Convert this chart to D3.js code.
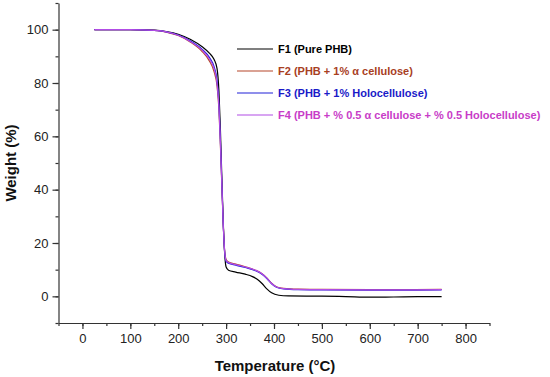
<!DOCTYPE html>
<html>
<head>
<meta charset="utf-8">
<script src="https://cdn.jsdelivr.net/npm/d3@7"></script>
<style>
  html, body { margin: 0; padding: 0; background: #fff; }
  svg { display: block; font-family: "Liberation Sans", Arial, sans-serif; }
</style>
</head>
<body>
<svg id="chart" width="550" height="377"></svg>
<script>
// ---- Data (temperature °C, weight %) ----
const seriesNames = [
  "F1 (Pure PHB)",
  "F2 (PHB + 1% \u03b1 cellulose)",
  "F3 (PHB + 1% Holocellulose)",
  "F4 (PHB + % 0.5 \u03b1 cellulose + % 0.5 Holocellulose)"
];
const lineColors = ["#000000", "#b5472a", "#2020d8", "#b24de6"];
const textColors = ["#000000", "#a8401f", "#1a1ac8", "#c83cc8"];

const f1 = [[25,100],[100,100],[150,99.8],[175,99.3],[200,98.3],[225,96.4],[250,93.6],[265,91.2],[275,88.8],[281,85.5],[285,77],[288,63],[291,45],[294,28],[297,16],[300,11],[305,9.8],[320,9.1],[340,8.3],[355,7.4],[365,6.4],[375,4.8],[385,2.8],[395,1.3],[410,0.4],[430,0.15],[500,0.05],[550,-0.1],[600,-0.3],[650,-0.25],[700,-0.1],[750,-0.1]];
const f2 = [[25,100],[100,100],[150,99.7],[175,99.1],[200,97.8],[225,95.4],[250,91.8],[265,88.3],[275,84.2],[281,79],[285,70],[288,57],[291,42],[294,27],[297,17],[300,13.8],[305,12.9],[320,12.1],[340,11.1],[360,9.9],[375,8.5],[385,6.9],[395,4.9],[405,3.6],[420,3.0],[450,2.7],[500,2.6],[600,2.5],[750,2.6]];
const f3 = [[25,100],[100,100],[150,99.7],[175,99.2],[200,98.0],[225,95.8],[250,92.6],[265,89.6],[275,86.0],[281,81],[285,72],[288,59],[291,43],[294,27],[297,16.5],[300,13.2],[305,12.4],[320,11.7],[340,10.8],[360,9.7],[375,8.3],[385,6.7],[395,4.7],[405,3.4],[420,2.8],[450,2.5],[500,2.4],[600,2.3],[750,2.4]];
const f4 = [[25,100],[100,100],[150,99.7],[175,99.2],[200,97.9],[225,95.6],[250,92.3],[265,89.0],[275,85.3],[281,80],[285,71],[288,58],[291,42.5],[294,27],[297,16.8],[300,13.5],[305,12.7],[320,11.9],[340,11.0],[360,9.9],[375,8.5],[385,6.8],[395,4.8],[405,3.5],[420,2.9],[450,2.6],[500,2.5],[600,2.4],[750,2.5]];
const seriesData = [f1, f2, f3, f4];

const xMajorTicks = [0, 100, 200, 300, 400, 500, 600, 700, 800];
const yMajorTicks = [0, 20, 40, 60, 80, 100];

// ---- Layout ----
const svg = d3.select("#chart");
const x = d3.scaleLinear().domain([-50, 850]).range([58.5, 489.5]);
const y = d3.scaleLinear().domain([-10, 110]).range([323, 3]);

const axisColor = "#333";

// X axis
const xAxisG = svg.append("g").attr("transform", `translate(0,${y(-10)})`);
xAxisG.append("g")
  .call(d3.axisBottom(x).tickValues(d3.range(-50, 851, 50)).tickSize(3).tickFormat(""))
  .call(g => g.select(".domain").remove());
xAxisG.append("g")
  .call(d3.axisBottom(x).tickValues(xMajorTicks).tickSize(6).tickSizeOuter(0).tickPadding(5))
  .call(g => g.selectAll("text").attr("font-size", 13).attr("fill", "#222").attr("font-family", "Liberation Sans, Arial, sans-serif"));
xAxisG.selectAll("line, path").attr("stroke", axisColor).attr("stroke-width", 1.2);

// Y axis
const yAxisG = svg.append("g").attr("transform", `translate(${x(-50)},0)`);
yAxisG.append("g")
  .call(d3.axisLeft(y).tickValues(d3.range(-10, 111, 10)).tickSize(3).tickFormat(""))
  .call(g => g.select(".domain").remove());
yAxisG.append("g")
  .call(d3.axisLeft(y).tickValues(yMajorTicks).tickSize(6).tickSizeOuter(0).tickPadding(4))
  .call(g => g.selectAll("text").attr("font-size", 13).attr("fill", "#222").attr("font-family", "Liberation Sans, Arial, sans-serif"));
yAxisG.selectAll("line, path").attr("stroke", axisColor).attr("stroke-width", 1.2);

// Axis titles
svg.append("text")
  .attr("x", (x(-50) + x(850)) / 2 + 1)
  .attr("y", 371)
  .attr("text-anchor", "middle")
  .attr("font-weight", "bold")
  .attr("font-size", 15)
  .attr("fill", "#111")
  .text("Temperature (\u00b0C)");

svg.append("text")
  .attr("transform", `translate(16,${(y(110) + y(-10)) / 2}) rotate(-90)`)
  .attr("text-anchor", "middle")
  .attr("font-weight", "bold")
  .attr("font-size", 15)
  .attr("fill", "#111")
  .text("Weight (%)");

// Lines
const line = d3.line()
  .x(d => x(d[0]))
  .y(d => y(d[1]))
  .curve(d3.curveMonotoneX);

const drawOrder = [0, 1, 2, 3];
drawOrder.forEach(i => {
  svg.append("path")
    .datum(seriesData[i])
    .attr("fill", "none")
    .attr("stroke", lineColors[i])
    .attr("stroke-width", 1.2)
    .attr("d", line);
});

// Legend
const legend = svg.append("g");
const legendX = 237, legendY0 = 49, legendDy = 22;
seriesNames.forEach((name, i) => {
  const yy = legendY0 + i * legendDy;
  legend.append("line")
    .attr("x1", legendX).attr("x2", legendX + 36)
    .attr("y1", yy).attr("y2", yy)
    .attr("stroke", lineColors[i]).attr("stroke-width", 1.2);
  legend.append("text")
    .attr("x", legendX + 41)
    .attr("y", yy + 4)
    .attr("font-size", 11)
    .attr("font-weight", "bold")
    .attr("fill", textColors[i])
    .text(name);
});
</script>
</body>
</html>
